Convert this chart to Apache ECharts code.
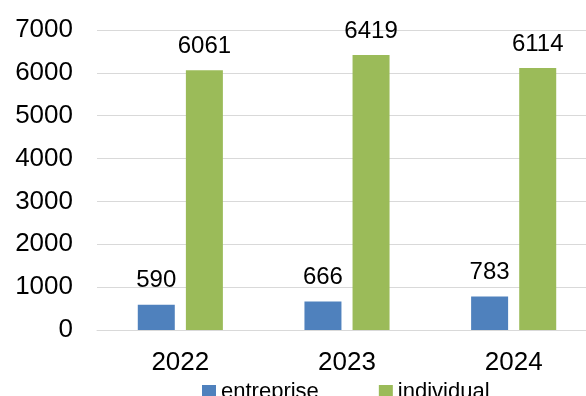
<!DOCTYPE html>
<html>
<head>
<meta charset="utf-8">
<script src="https://cdn.jsdelivr.net/npm/echarts@6/dist/echarts.min.js"></script>
<style>html,body{margin:0;padding:0;background:#fff;}#c{width:586px;height:396px;}</style>
</head>
<body>
<div id="c"></div>
<script>
var categories = ['2022', '2023', '2024'];
var entreprise = [590, 666, 783];
var individual = [6061, 6419, 6114];
var seriesNames = ['entreprise', 'individual'];

var chart = echarts.init(document.getElementById('c'), null, {renderer: 'canvas'});
var font = 'Liberation Sans, Arial, sans-serif';
var labelStyle = {show: true, position: 'top', distance: 12, color: '#000', fontSize: 24, fontFamily: font};
chart.setOption({
  animation: false,
  backgroundColor: '#fff',
  grid: {left: 97, right: -11, top: 30, bottom: 66, containLabel: false, outerBoundsMode: 'none'},
  legend: {
    data: seriesNames,
    left: 197, top: 376,
    itemWidth: 14, itemHeight: 14, itemGap: 60,
    icon: 'rect',
    textStyle: {color: '#000', fontSize: 22, fontFamily: font, padding: [0, 0, 4, 0]}
  },
  xAxis: {
    type: 'category',
    data: categories,
    axisLine: {lineStyle: {color: '#d9d9d9', width: 1}},
    axisTick: {show: false},
    axisLabel: {color: '#000', fontSize: 26, fontFamily: font, margin: 20}
  },
  yAxis: {
    type: 'value',
    min: 0, max: 7000, interval: 1000,
    axisLine: {show: false},
    axisTick: {show: false},
    splitLine: {lineStyle: {color: '#d9d9d9', width: 1}},
    axisLabel: {color: '#000', fontSize: 26, fontFamily: font, margin: 24, formatter: function (v) { return String(v); }}
  },
  series: [
    {name: seriesNames[0], type: 'bar', data: entreprise, barWidth: 37, barGap: '30%', itemStyle: {color: '#4f81bd'}, label: labelStyle},
    {name: seriesNames[1], type: 'bar', data: individual, barWidth: 37, barGap: '30%', itemStyle: {color: '#9bbb59'}, label: labelStyle}
  ]
});
</script>
</body>
</html>
